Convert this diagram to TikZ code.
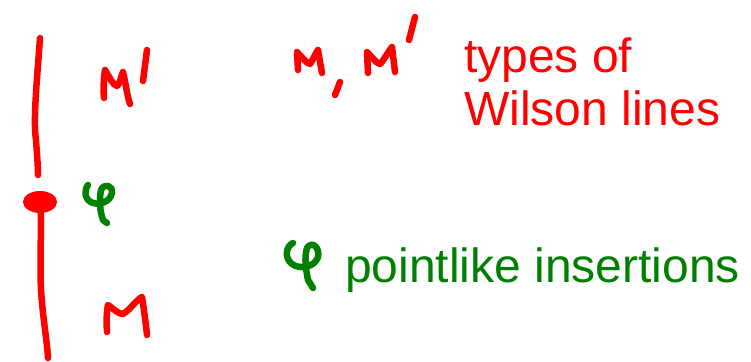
\documentclass[tikz,border=0pt]{standalone}
\usepackage{fontspec}
\setmainfont{Liberation Sans}
\definecolor{inkred}{RGB}{255,0,0}
\definecolor{inkgreen}{RGB}{0,128,0}
\begin{document}
\begin{tikzpicture}[x=1pt,y=-1pt,
  pen/.style={line width=6.5pt,line cap=round,line join=round},
  redpen/.style={pen,draw=inkred},
  greenpen/.style={pen,draw=inkgreen},
  label/.style={inner sep=0pt,anchor=base west,font=\fontsize{48}{53}\selectfont}]
\useasboundingbox (0,0) rectangle (751,361);
% Wilson line, upper part
\draw[redpen] (40,38) .. controls (37,80) and (33,120) .. (36,140) .. controls (37,155) and (38,165) .. (38,175);
% insertion point
\fill[inkred] (40,202) ellipse[x radius=17pt,y radius=11pt];
% Wilson line, lower part
\draw[redpen] (41,205) .. controls (41,240) and (40,270) .. (41,290) .. controls (43,320) and (47,340) .. (48,358);
% M' near line
\draw[redpen] (104,98) .. controls (103,88) and (104,76) .. (105,70) .. controls (110,78) and (113,85) .. (117,86) .. controls (120,84) and (121,76) .. (123,72) .. controls (126,85) and (127,95) .. (130,104);
\draw[redpen] (147,50) -- (143,81);
% phi near line
\draw[greenpen] (88,185) .. controls (84,190) and (84,200) .. (93,203) .. controls (100,205) and (110,202) .. (112,193) .. controls (113,185) and (104,183) .. (101,190) .. controls (99,200) and (100,212) .. (103,220) -- (107,223);
% M near line
\draw[redpen] (107,332) .. controls (106,320) and (107,310) .. (108,305) .. controls (114,309) and (118,314) .. (123,314) .. controls (130,310) and (136,300) .. (142,297) .. controls (144,310) and (146,325) .. (147,335);
% legend M, M'
\draw[redpen] (298,70) -- (297,52) .. controls (302,57) and (306,63) .. (310,64) .. controls (313,60) and (315,54) .. (318,50) -- (322,73);
\draw[redpen] (340,82) -- (335,95);
\draw[redpen] (368,73) -- (367,52) .. controls (372,57) and (376,63) .. (380,64) .. controls (384,60) and (388,52) .. (392,47) -- (395,72);
\draw[redpen] (415,17) -- (409,40);
% legend phi
\draw[greenpen] (293,243) .. controls (286,246) and (284,258) .. (292,264) .. controls (300,270) and (315,267) .. (318,257) .. controls (320,248) and (312,240) .. (307,248) .. controls (304,258) and (306,270) .. (308,280) -- (313,288);
% texts
\node[label,text=inkred] (types) at (464,72) {types of};
\node[label,text=inkred] (wilson) at (464,125) {Wilson lines};
\node[label,text=inkgreen] (point) at (345,282) {pointlike insertions};
\end{tikzpicture}
\end{document}
